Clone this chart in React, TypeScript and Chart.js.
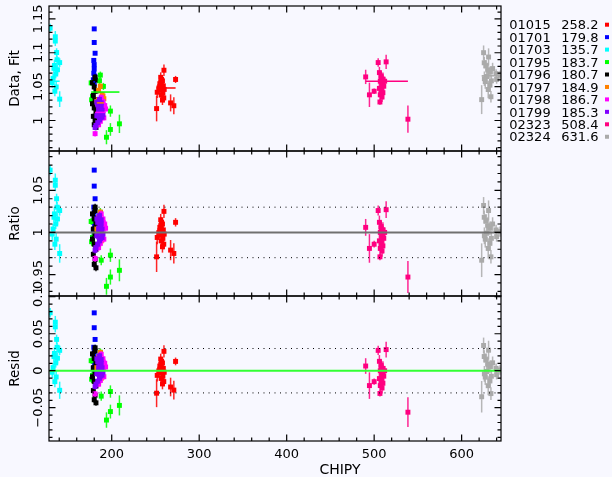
import React, { useEffect, useRef } from "react";
import { Chart, registerables } from "chart.js";
Chart.register(...registerables);

const W = 612;
const H = 477;
const PLOT_LEFT = 49;
const PLOT_RIGHT = 501;
const X_MIN = 128.3;
const X_MAX = 645;

// Observation ids, mean CHIPY, colours and model level of each data set
const obsIds = ["01015", "01701", "01703", "01795", "01796", "01797", "01798", "01799", "02323", "02324"];
const meanChipy = ["258.2", "179.8", "135.7", "183.7", "180.7", "184.9", "186.7", "185.3", "508.4", "631.6"];
const setColors = ["#ff0000", "#0000ff", "#00ffff", "#00ff00", "#000000", "#ff8000", "#ff00ff", "#8000ff", "#ff0080", "#aaaaaa"];
const modelLevels = [1.048, 1.057, 1.058, 1.042, 1.033, 1.026, 1.012, 1.011, 1.058, 1.066];

// Per data set: CHIPY, data/model ratio, ratio error
const chipy01015 = [259.7, 273.0, 251.3, 267.3, 271.0, 256.0, 258.0, 255.0, 259.0, 254.0, 257.0, 252.0, 256.5, 259.5, 258.0, 256.0, 260.0, 257.0, 255.0, 258.5];
const ratio01015 = [1.025, 1.012, 0.971, 0.979, 0.975, 1.015, 1.010, 1.006, 1.003, 1.000, 0.997, 0.994, 0.990, 0.986, 0.983, 1.008, 0.998, 1.012, 1.002, 0.993];
const err01015 = [0.008, 0.005, 0.018, 0.012, 0.012, 0.007, 0.006, 0.008, 0.006, 0.007, 0.006, 0.008, 0.007, 0.006, 0.007, 0.006, 0.007, 0.006, 0.008, 0.007];

const chipy01701 = [180.0, 180.0, 181.0, 179.5, 180.0, 180.0, 179.5, 180.5, 179.0, 180.0];
const ratio01701 = [1.074, 1.055, 1.040, 1.030, 1.024, 1.018, 1.012, 1.008, 1.003, 0.998];
const err01701 = [0.002, 0.002, 0.002, 0.002, 0.002, 0.002, 0.002, 0.002, 0.002, 0.002];

const chipy01703 = [129.6, 135.5, 135.5, 137.0, 140.5, 134.5, 138.0, 136.0, 133.0, 132.0, 136.5, 135.0, 140.5, 137.5, 134.0];
const ratio01703 = [1.074, 1.062, 1.056, 1.040, 1.026, 1.022, 1.016, 1.010, 1.004, 0.998, 0.992, 0.986, 0.975, 1.030, 1.018];
const err01703 = [0.006, 0.008, 0.007, 0.006, 0.006, 0.008, 0.007, 0.006, 0.006, 0.007, 0.008, 0.007, 0.011, 0.006, 0.006];

const chipy01795 = [187.0, 186.0, 190.5, 176.5, 177.0, 188.0, 198.5, 208.8, 198.5, 194.0, 178.0];
const ratio01795 = [1.024, 1.016, 1.008, 1.013, 0.989, 0.967, 0.973, 0.955, 0.947, 0.936, 0.994];
const err01795 = [0.005, 0.005, 0.005, 0.004, 0.005, 0.006, 0.008, 0.013, 0.009, 0.010, 0.005];

const chipy01796 = [181, 178, 180, 182, 179, 181, 178, 180, 182, 179, 181, 180, 182, 181];
const ratio01796 = [1.030, 1.022, 1.016, 1.010, 1.004, 0.998, 0.992, 0.986, 0.980, 0.974, 0.968, 0.962, 0.958, 1.026];
const err01796 = [0.004, 0.004, 0.004, 0.004, 0.004, 0.004, 0.004, 0.004, 0.004, 0.004, 0.004, 0.004, 0.004, 0.004];

const chipy01797 = [187, 185, 189, 191, 184, 186, 188, 190, 185, 183];
const ratio01797 = [1.024, 1.018, 1.012, 1.006, 1.000, 0.995, 0.990, 1.010, 0.985, 1.004];
const err01797 = [0.004, 0.004, 0.004, 0.004, 0.004, 0.004, 0.004, 0.004, 0.004, 0.004];

const chipy01798 = [188, 190, 192, 186, 189, 191, 187, 185, 190, 181, 188, 193];
const ratio01798 = [1.022, 1.016, 1.010, 1.004, 0.998, 0.992, 0.987, 0.982, 1.012, 0.969, 1.000, 1.005];
const err01798 = [0.004, 0.004, 0.004, 0.004, 0.004, 0.004, 0.004, 0.004, 0.004, 0.004, 0.004, 0.004];

const chipy01799 = [186, 188, 184, 187, 189, 185, 183, 187, 190, 186, 184, 188, 182, 185, 187, 189, 183, 181];
const ratio01799 = [1.020, 1.015, 1.012, 1.008, 1.004, 1.000, 0.996, 0.993, 0.998, 0.990, 0.986, 1.010, 0.982, 1.005, 1.002, 0.994, 1.016, 0.979];
const err01799 = [0.004, 0.004, 0.004, 0.004, 0.004, 0.004, 0.004, 0.004, 0.004, 0.004, 0.004, 0.004, 0.004, 0.004, 0.004, 0.004, 0.004, 0.004];

const chipy02323 = [490.3, 494.6, 500.0, 504.6, 513.7, 506.6, 538.6, 506, 508, 510, 507, 509, 511, 506, 508, 510, 507, 509, 512, 508, 510];
const ratio02323 = [1.006, 0.981, 0.986, 1.026, 1.027, 0.971, 0.947, 1.012, 1.007, 1.003, 1.000, 0.996, 0.993, 0.990, 0.987, 0.984, 0.981, 0.978, 1.000, 1.005, 0.995];
const err02323 = [0.010, 0.017, 0.004, 0.006, 0.010, 0.004, 0.019, 0.008, 0.007, 0.009, 0.008, 0.007, 0.009, 0.008, 0.007, 0.009, 0.008, 0.007, 0.006, 0.008, 0.007];

const chipy02324 = [625.1, 630.8, 625.8, 627.8, 635.4, 632.3, 628.6, 627.0, 632.3, 630.4, 633.5, 622.9, 640.0, 643.8, 639.4, 630.0, 634.0, 626.0];
const ratio02324 = [1.032, 1.026, 1.018, 1.014, 1.010, 1.005, 0.999, 0.992, 0.987, 0.981, 0.971, 0.967, 0.995, 1.001, 1.003, 1.008, 0.993, 0.996];
const err02324 = [0.010, 0.012, 0.008, 0.008, 0.008, 0.008, 0.010, 0.010, 0.008, 0.012, 0.008, 0.020, 0.006, 0.006, 0.006, 0.010, 0.008, 0.010];

const chipyAll = [chipy01015, chipy01701, chipy01703, chipy01795, chipy01796, chipy01797, chipy01798, chipy01799, chipy02323, chipy02324];
const ratioAll = [ratio01015, ratio01701, ratio01703, ratio01795, ratio01796, ratio01797, ratio01798, ratio01799, ratio02323, ratio02324];
const errAll = [err01015, err01701, err01703, err01795, err01796, err01797, err01798, err01799, err02323, err02324];

// Axis ticks
const xMajorTicks = [200, 300, 400, 500, 600];
const xTickLabels = ["200", "300", "400", "500", "600"];
const topTicks = [1, 1.05, 1.1, 1.15];
const topTickLabels = ["1", "1.05", "1.1", "1.15"];
const ratioTicks = [0.95, 1, 1.05];
const ratioTickLabels = ["0.95", "1", "1.05"];
const residTicks = [-0.05, 0, 0.05, 0.1];
const residTickLabels = ["\u22120.05", "0", "0.05", "0.1"];

type PanelDef = {
  kind: "data" | "ratio" | "resid";
  top: number;
  bottom: number;
  yMin: number;
  yMax: number;
  ticks: number[];
  labels: string[];
  title: string;
};

const panels: PanelDef[] = [
  { kind: "data", top: 6, bottom: 151, yMin: 0.955, yMax: 1.169, ticks: topTicks, labels: topTickLabels, title: "Data, Fit" },
  { kind: "ratio", top: 151, bottom: 296, yMin: 0.9245, yMax: 1.0967, ticks: ratioTicks, labels: ratioTickLabels, title: "Ratio" },
  { kind: "resid", top: 296, bottom: 441, yMin: -0.095, yMax: 0.101, ticks: residTicks, labels: residTickLabels, title: "Resid" },
];

const FONT = "DejaVu Sans";

function rotText(ctx: CanvasRenderingContext2D, text: string, cx: number, cy: number, off: number) {
  ctx.save();
  ctx.translate(cx, cy);
  ctx.rotate(-Math.PI / 2);
  ctx.textAlign = "center";
  ctx.textBaseline = "alphabetic";
  ctx.fillText(text, 0, off);
  ctx.restore();
}

function buildDatasets(p: PanelDef) {
  const ds: any[] = [];
  for (let k = 0; k < obsIds.length; k++) {
    const m = modelLevels[k];
    const xs = chipyAll[k];
    const rs = ratioAll[k];
    const es = errAll[k];
    const data = xs.map((x, i) => {
      let y = rs[i];
      if (p.kind === "data") y = rs[i] * m;
      if (p.kind === "resid") y = rs[i] * m - m;
      return { x, y };
    });
    const errs = es.map((e) => (p.kind === "ratio" ? e : e * m));
    ds.push({
      type: "scatter",
      label: obsIds[k],
      data,
      errs,
      errColor: setColors[k],
      pointStyle: "rect",
      pointRadius: 3.5,
      pointBorderWidth: 0,
      pointBackgroundColor: setColors[k],
      borderColor: setColors[k],
      showLine: false,
      order: 100 - k,
    });
    if (p.kind === "data") {
      ds.push({
        type: "line",
        label: obsIds[k] + " fit",
        data: [
          { x: Math.min(...xs), y: m },
          { x: Math.max(...xs), y: m },
        ],
        borderColor: setColors[k],
        borderWidth: 1.5,
        pointRadius: 0,
        fill: false,
        order: 0,
      });
    }
  }
  return ds;
}

function makePlugin(p: PanelDef, idx: number) {
  return {
    id: "panelDecor" + idx,
    beforeDatasetDraw(chart: any, args: any) {
      const ds = chart.data.datasets[args.index];
      if (!ds.errs) return;
      const ctx = chart.ctx as CanvasRenderingContext2D;
      const xs = chart.scales.x;
      const ys = chart.scales.y;
      const ca = chart.chartArea;
      ctx.save();
      ctx.beginPath();
      ctx.rect(ca.left, ca.top, ca.right - ca.left, ca.bottom - ca.top);
      ctx.clip();
      ctx.strokeStyle = ds.errColor;
      ctx.globalAlpha = 0.85;
      ctx.lineWidth = 1.5;
      ds.data.forEach((pt: any, i: number) => {
        const x = xs.getPixelForValue(pt.x);
        const y1 = ys.getPixelForValue(pt.y - ds.errs[i]);
        const y2 = ys.getPixelForValue(pt.y + ds.errs[i]);
        ctx.beginPath();
        ctx.moveTo(x, y1);
        ctx.lineTo(x, y2);
        ctx.stroke();
      });
      ctx.restore();
    },
    afterDatasetsDraw(chart: any) {
      const ctx = chart.ctx as CanvasRenderingContext2D;
      const ys = chart.scales.y;
      const ca = chart.chartArea;
      const hline = (v: number, color: string, w: number, dash: number[]) => {
        const y = ys.getPixelForValue(v);
        ctx.save();
        ctx.strokeStyle = color;
        ctx.lineWidth = w;
        ctx.setLineDash(dash);
        ctx.beginPath();
        ctx.moveTo(ca.left, y);
        ctx.lineTo(ca.right, y);
        ctx.stroke();
        ctx.restore();
      };
      if (p.kind === "ratio") {
        hline(1, "#707070", 2, []);
        hline(1.03, "#000000", 1, [1, 4.5]);
        hline(0.97, "#000000", 1, [1, 4.5]);
      }
      if (p.kind === "resid") {
        hline(0, "#33ff33", 2, []);
        hline(0.03, "#000000", 1, [1, 4.5]);
        hline(-0.03, "#000000", 1, [1, 4.5]);
      }
    },
    afterDraw(chart: any) {
      const ctx = chart.ctx as CanvasRenderingContext2D;
      const xs = chart.scales.x;
      const ys = chart.scales.y;
      const ca = chart.chartArea;
      const L = ca.left, R = ca.right, T = ca.top, B = ca.bottom;
      ctx.save();
      ctx.strokeStyle = "#000";
      ctx.lineWidth = 1.2;
      ctx.strokeRect(L, T, R - L, B - T);
      ctx.beginPath();
      // x ticks (minor every 20, major every 100)
      for (let v = 140; v <= X_MAX; v += 20) {
        const x = xs.getPixelForValue(v);
        const len = v % 100 === 0 ? 6.5 : 3.5;
        ctx.moveTo(x, B);
        ctx.lineTo(x, B - len);
        ctx.moveTo(x, T);
        ctx.lineTo(x, T + len);
      }
      // y ticks (minor every 0.01)
      const start = Math.ceil(p.yMin * 100 - 1e-6);
      const end = Math.floor(p.yMax * 100 + 1e-6);
      for (let j = start; j <= end; j++) {
        const v = j / 100;
        const y = ys.getPixelForValue(v);
        const major = p.ticks.some((t) => Math.abs(t - v) < 1e-6);
        const len = major ? 6.5 : 3.5;
        ctx.moveTo(L, y);
        ctx.lineTo(L + len, y);
        ctx.moveTo(R, y);
        ctx.lineTo(R - len, y);
      }
      ctx.stroke();

      ctx.fillStyle = "#000";
      ctx.font = `13px "${FONT}"`;
      p.ticks.forEach((t, i) => {
        rotText(ctx, p.labels[i], 37, ys.getPixelForValue(t), 4.7);
      });
      ctx.font = `13.5px "${FONT}"`;
      rotText(ctx, p.title, 14, (T + B) / 2, 5);

      if (p.kind === "resid") {
        ctx.font = `13px "${FONT}"`;
        ctx.textAlign = "center";
        ctx.textBaseline = "alphabetic";
        xMajorTicks.forEach((t, i) => {
          ctx.fillText(xTickLabels[i], xs.getPixelForValue(t), 458);
        });
        ctx.font = `14px "${FONT}"`;
        ctx.fillText("CHIPY", 340, 474);
      }

      if (p.kind === "data") {
        ctx.font = `13px "${FONT}"`;
        ctx.textBaseline = "alphabetic";
        obsIds.forEach((id, i) => {
          const yc = 24.7 + i * 12.45;
          ctx.textAlign = "left";
          ctx.fillText(id, 509.3, yc + 4.7);
          ctx.textAlign = "right";
          ctx.fillText(meanChipy[i], 598.5, yc + 4.7);
          ctx.fillStyle = setColors[i];
          ctx.fillRect(605, yc - 2, 4, 4);
          ctx.fillStyle = "#000";
        });
      }
      ctx.restore();
    },
  };
}

function Panel({ p, idx }: { p: PanelDef; idx: number }) {
  const ref = useRef<HTMLCanvasElement>(null);
  useEffect(() => {
    if (!ref.current) return;
    const chart = new Chart(ref.current, {
      type: "scatter",
      data: { datasets: buildDatasets(p) },
      options: {
        responsive: false,
        animation: false,
        devicePixelRatio: 1,
        events: [],
        layout: {
          autoPadding: false,
          padding: { left: PLOT_LEFT, right: W - PLOT_RIGHT, top: p.top, bottom: H - p.bottom },
        },
        scales: {
          x: { type: "linear", min: X_MIN, max: X_MAX, display: false },
          y: { type: "linear", min: p.yMin, max: p.yMax, display: false },
        },
        plugins: { legend: { display: false }, tooltip: { enabled: false } },
      },
      plugins: [makePlugin(p, idx)],
    } as any);
    return () => chart.destroy();
  }, []);
  return (
    <canvas
      ref={ref}
      width={W}
      height={H}
      style={{ position: "absolute", left: 0, top: 0, width: W, height: H }}
    />
  );
}

export default function App() {
  return (
    <div style={{ position: "fixed", left: 0, top: 0, width: W, height: H, background: "#f8f8ff", overflow: "hidden" }}>
      {panels.map((p, i) => (
        <Panel key={i} p={p} idx={i} />
      ))}
    </div>
  );
}
